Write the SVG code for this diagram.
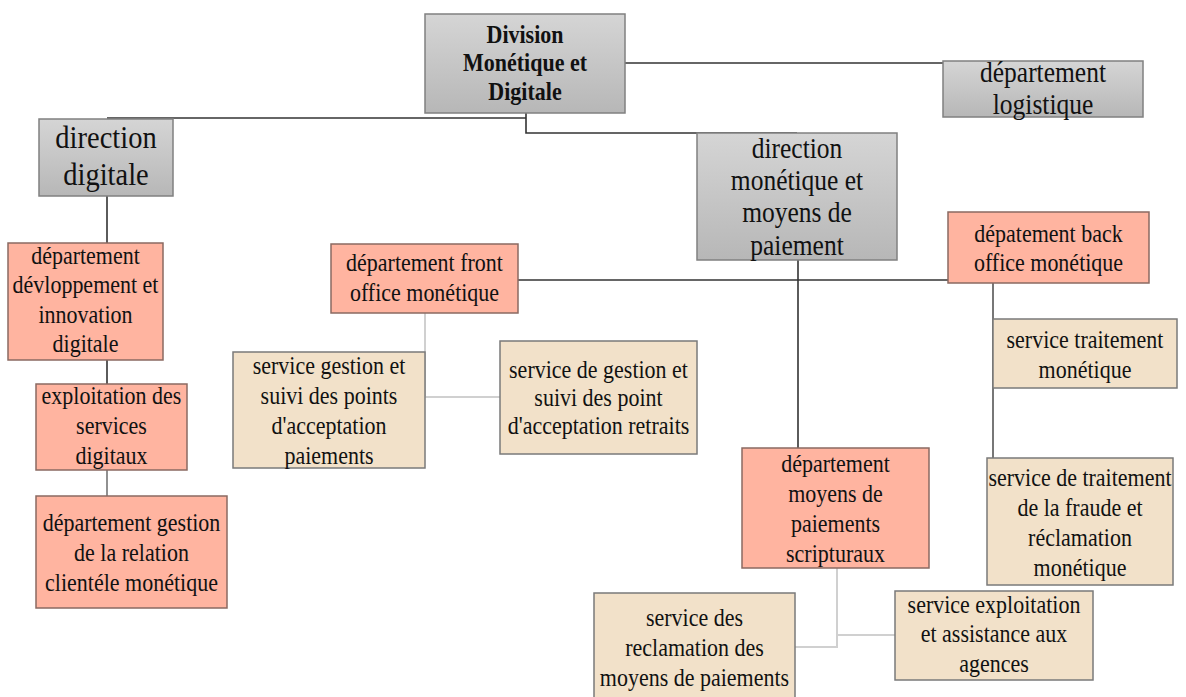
<svg xmlns="http://www.w3.org/2000/svg" width="1186" height="697" viewBox="0 0 1186 697">
<defs>
<linearGradient id="gGray" x1="0" y1="0" x2="0" y2="1">
<stop offset="0" stop-color="#d5d5d5"/>
<stop offset="1" stop-color="#b7b7b7"/>
</linearGradient>
<style>
.gray{fill:url(#gGray);stroke:#808080;stroke-width:1.5}
.salmon{fill:#ffb4a0;stroke:#8a6a62;stroke-width:1.5}
.beige{fill:#f2e1c9;stroke:#7a7a7a;stroke-width:1.5}
.t{fill:#111;text-anchor:middle}
.b{font-weight:bold;font-size:22px}
.l{font-size:25.5px}
.xl{font-size:28.5px}
.m{font-size:22px}
.dark{fill:none;stroke:#333;stroke-width:1.6}
.light{fill:none;stroke:#d0d0d0;stroke-width:2}
</style>
</defs>
<rect width="1186" height="697" fill="#fff"/>
<g id="connectors">
<path class="dark" d="M625,63 H943"/>
<path class="dark" d="M107,118 H526"/>
<path class="dark" d="M526,113 V133 H797"/>
<path class="dark" d="M107,196 V243"/>
<path class="dark" d="M107,360 V384"/>
<path class="dark" d="M107,470 V496" style="stroke:#555;stroke-width:1.3"/>
<path class="dark" d="M518,280 H948"/>
<path class="dark" d="M798,260 V448"/>
<path class="dark" d="M993,283 V458" style="stroke:#555"/>
<path class="light" d="M425,313 V397 H500"/>
<path class="light" d="M837,568 V647 H794"/>
<path class="light" d="M837,635 H895"/>
</g>
<g font-family="Times New Roman, Tinos, Liberation Serif, DejaVu Serif, serif">
<g id="n-division">
<rect class="gray" x="425" y="14" width="200" height="99"/>
<text class="t b" transform="translate(525,43) scale(1,1.12)"><tspan x="0">Division</tspan><tspan x="0" dy="25.4">Monétique et</tspan><tspan x="0" dy="25.4">Digitale</tspan></text>
</g>
<g id="n-logistique">
<rect class="gray" x="943" y="61" width="200" height="56"/>
<text class="t l" transform="translate(1043,82) scale(1,1.12)"><tspan x="0">département</tspan><tspan x="0" dy="28.6">logistique</tspan></text>
</g>
<g id="n-dir-digitale">
<rect class="gray" x="39" y="119" width="134" height="77"/>
<text class="t xl" transform="translate(106,148) scale(1,1.12)"><tspan x="0">direction</tspan><tspan x="0" dy="33">digitale</tspan></text>
</g>
<g id="n-dir-monetique">
<rect class="gray" x="697" y="133" width="200" height="127"/>
<text class="t l" transform="translate(797,158) scale(1,1.12)"><tspan x="0">direction</tspan><tspan x="0" dy="28.8">monétique et</tspan><tspan x="0" dy="28.8">moyens de</tspan><tspan x="0" dy="28.8">paiement</tspan></text>
</g>
<g id="n-dev-innovation">
<rect class="salmon" x="8" y="243" width="155" height="117"/>
<text class="t m" transform="translate(85.5,264) scale(1,1.12)"><tspan x="0">département</tspan><tspan x="0" dy="26.2">dévloppement et</tspan><tspan x="0" dy="26.2">innovation</tspan><tspan x="0" dy="26.2">digitale</tspan></text>
</g>
<g id="n-exploitation">
<rect class="salmon" x="36" y="384" width="151" height="86"/>
<text class="t m" transform="translate(111.5,404) scale(1,1.12)"><tspan x="0">exploitation des</tspan><tspan x="0" dy="26.8">services</tspan><tspan x="0" dy="26.8">digitaux</tspan></text>
</g>
<g id="n-relation-clientele">
<rect class="salmon" x="36" y="496" width="191" height="112"/>
<text class="t m" transform="translate(131.5,531) scale(1,1.12)"><tspan x="0">département gestion</tspan><tspan x="0" dy="26.8">de la relation</tspan><tspan x="0" dy="26.8">clientéle monétique</tspan></text>
</g>
<g id="n-front-office">
<rect class="salmon" x="331" y="244" width="187" height="69"/>
<text class="t m" transform="translate(424.5,271) scale(1,1.12)"><tspan x="0">département front</tspan><tspan x="0" dy="26.8">office monétique</tspan></text>
</g>
<g id="n-points-paiements">
<rect class="beige" x="233" y="352" width="192" height="116"/>
<text class="t m" transform="translate(329,374) scale(1,1.12)"><tspan x="0">service gestion et</tspan><tspan x="0" dy="26.8">suivi des points</tspan><tspan x="0" dy="26.8">d'acceptation</tspan><tspan x="0" dy="26.8">paiements</tspan></text>
</g>
<g id="n-points-retraits">
<rect class="beige" x="500" y="341" width="197" height="113"/>
<text class="t m" transform="translate(598.5,378) scale(1,1.12)"><tspan x="0">service de gestion et</tspan><tspan x="0" dy="25.2">suivi des point</tspan><tspan x="0" dy="25.2">d'acceptation retraits</tspan></text>
</g>
<g id="n-back-office">
<rect class="salmon" x="948" y="212" width="201" height="71"/>
<text class="t m" transform="translate(1048.5,242) scale(1,1.12)"><tspan x="0">dépatement back</tspan><tspan x="0" dy="26">office monétique</tspan></text>
</g>
<g id="n-traitement">
<rect class="beige" x="993" y="319" width="184" height="69"/>
<text class="t m" transform="translate(1085,348) scale(1,1.12)"><tspan x="0">service traitement</tspan><tspan x="0" dy="26.8">monétique</tspan></text>
</g>
<g id="n-fraude">
<rect class="beige" x="987" y="458" width="186" height="127"/>
<text class="t m" transform="translate(1080,486) scale(1,1.12)"><tspan x="0">service de traitement</tspan><tspan x="0" dy="26.8">de la fraude et</tspan><tspan x="0" dy="26.8">réclamation</tspan><tspan x="0" dy="26.8">monétique</tspan></text>
</g>
<g id="n-scripturaux">
<rect class="salmon" x="742" y="448" width="187" height="120"/>
<text class="t m" transform="translate(835.5,472) scale(1,1.12)"><tspan x="0">département</tspan><tspan x="0" dy="26.8">moyens de</tspan><tspan x="0" dy="26.8">paiements</tspan><tspan x="0" dy="26.8">scripturaux</tspan></text>
</g>
<g id="n-reclamation">
<rect class="beige" x="594" y="593" width="201" height="110"/>
<text class="t m" transform="translate(694.5,626) scale(1,1.12)"><tspan x="0">service des</tspan><tspan x="0" dy="26.8">reclamation des</tspan><tspan x="0" dy="26.8">moyens de paiements</tspan></text>
</g>
<g id="n-assistance">
<rect class="beige" x="895" y="591" width="198" height="89"/>
<text class="t m" transform="translate(994,613) scale(1,1.12)"><tspan x="0">service exploitation</tspan><tspan x="0" dy="26.2">et assistance aux</tspan><tspan x="0" dy="26.2">agences</tspan></text>
</g>
</g>
</svg>
